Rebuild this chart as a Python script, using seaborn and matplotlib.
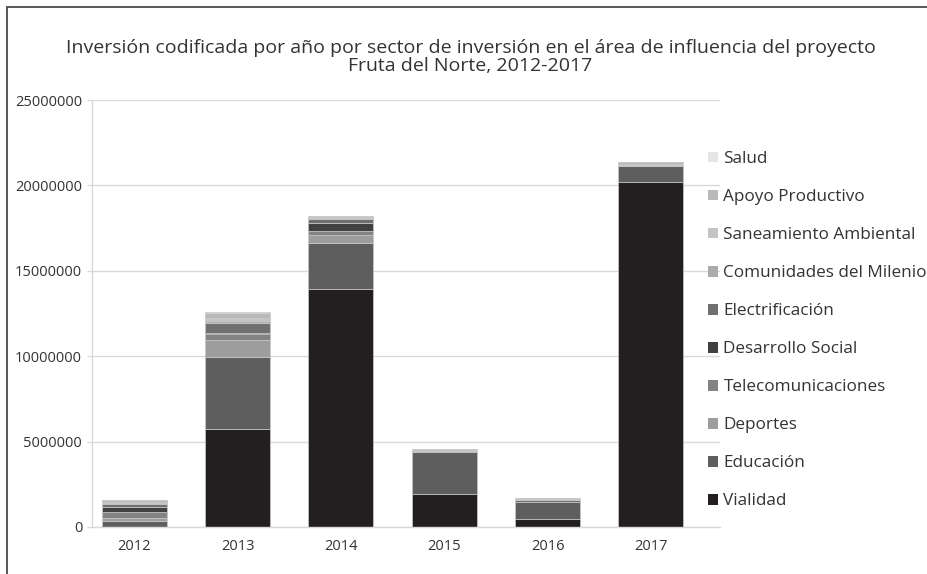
import matplotlib
matplotlib.use("Agg")
import matplotlib.pyplot as plt
from matplotlib.patches import Rectangle
import numpy as np
import pandas as pd
import seaborn as sns

# Data (stacked bottom -> top)
years = ['2012', '2013', '2014', '2015', '2016', '2017']
sectors = ['Vialidad', 'Educación', 'Deportes', 'Telecomunicaciones',
           'Desarrollo Social', 'Electrificación', 'Comunidades del Milenio',
           'Saneamiento Ambiental', 'Apoyo Productivo', 'Salud']
vialidad = [20000, 5760000, 13930000, 1960000, 450000, 20180000]
educacion = [350000, 4210000, 2680000, 2440000, 1040000, 960000]
deportes = [140000, 980000, 490000, 50000, 0, 0]
telecomunicaciones = [390000, 350000, 230000, 0, 0, 0]
desarrollo_social = [250000, 60000, 490000, 0, 0, 0]
electrificacion = [200000, 560000, 210000, 0, 80000, 0]
comunidades = [80000, 150000, 60000, 40000, 60000, 80000]
saneamiento = [60000, 180000, 40000, 20000, 40000, 60000]
apoyo = [70000, 280000, 60000, 30000, 50000, 70000]
salud = [40000, 30000, 30000, 0, 0, 40000]
yticks = [0, 5000000, 10000000, 15000000, 20000000, 25000000]

colors = ['#231f20', '#5e5e5e', '#9d9d9d', '#838383', '#414141',
          '#6f6f6f', '#ababab', '#c4c4c4', '#b9b9b9', '#e5e5e5']

values = [vialidad, educacion, deportes, telecomunicaciones, desarrollo_social,
          electrificacion, comunidades, saneamiento, apoyo, salud]

text_color = '#333333'
plt.rcParams['font.family'] = ['Open Sans', 'DejaVu Sans']

fig = plt.figure(figsize=(9.28, 5.74), dpi=100)
ax = fig.add_axes([92 / 928, 1 - 527 / 574, 628 / 928, 427 / 574])

# stacked bars, one barplot call per sector
bottom = np.zeros(len(years))
handles = []
for name, vals, c in zip(sectors, values, colors):
    df = pd.DataFrame({'year': years, 'value': vals})
    sns.barplot(data=df, x='year', y='value', color=c, bottom=bottom,
                width=0.63, edgecolor='#c8c8c8', linewidth=0.5,
                saturation=1, ax=ax)
    bottom = bottom + np.array(vals)
    handles.append(Rectangle((0, 0), 1, 1, facecolor=c, edgecolor='none', label=name))

ax.set_xlim(-0.41, 5.67)
ax.set_ylim(0, 25000000)
ax.set_yticks(yticks)
ax.set_yticklabels([str(v) for v in yticks])
ax.set_xlabel('')
ax.set_ylabel('')
ax.yaxis.grid(True, color='#d9d9d9', linewidth=1)
ax.set_axisbelow(True)
for s in ['top', 'right']:
    ax.spines[s].set_visible(False)
for s in ['left', 'bottom']:
    ax.spines[s].set_color('#d9d9d9')
    ax.spines[s].set_linewidth(1)
ax.tick_params(axis='y', length=3.6, width=1, color='#d9d9d9', pad=3.5,
               labelsize=10.5, labelcolor=text_color)
ax.tick_params(axis='x', length=0, pad=9, labelsize=10.5, labelcolor=text_color)

# legend, Salud on top
ax.legend(handles=handles[::-1], loc='upper left', bbox_to_anchor=(708 / 928, 1 - 151 / 574),
          bbox_transform=fig.transFigure, frameon=False, fontsize=12.3,
          handlelength=0.6, handleheight=0.6, handletextpad=0.3,
          labelspacing=1.29, borderaxespad=0, borderpad=0, labelcolor=text_color)

fig.text(0.507, 1 - 57 / 574,
         'Inversión codificada por año por sector de inversión en el área de influencia del proyecto\nFruta del Norte, 2012-2017',
         ha='center', va='center', fontsize=14, color=text_color, linespacing=0.95)

# outer frame (only left and top edges fall inside the image)
fig.patches.append(Rectangle((7 / 928, -0.2), 1.5, 0.2 + 1 - 7 / 574, transform=fig.transFigure,
                             fill=False, edgecolor='#4a4a4a', linewidth=1.3))

fig.savefig('out.png', dpi=100)
